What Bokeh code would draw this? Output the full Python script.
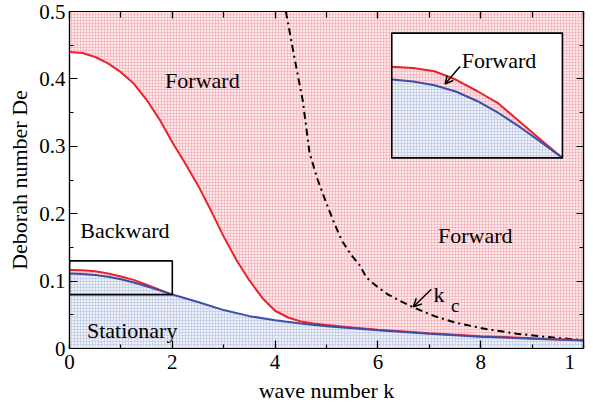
from bokeh.plotting import figure
from bokeh.models import (Range1d, LinearAxis, SingleIntervalTicker, Arrow, OpenHead)
from bokeh.core.properties import value
from bokeh.embed import file_html
from bokeh.resources import INLINE

# ---------------- data ----------------
# upper red curve (boundary of the Forward region)
k_up = [0.0, 0.25, 0.5, 0.75, 1.0, 1.25, 1.5, 1.75, 2.0, 2.25, 2.5, 2.75, 3.0,
        3.25, 3.5, 3.75, 4.0, 4.25, 4.5, 4.75, 5.0, 5.5, 6.0, 7.0, 8.0, 9.0, 10.0]
de_up = [0.440, 0.4385, 0.4325, 0.423, 0.410, 0.393, 0.369, 0.340, 0.306, 0.275,
         0.242, 0.205, 0.166, 0.131, 0.101, 0.075, 0.056, 0.046, 0.040, 0.037,
         0.035, 0.031, 0.028, 0.0228, 0.0183, 0.0152, 0.0123]

# blue curve (boundary of the Stationary region)
k_blue = [0.0, 0.25, 0.5, 0.75, 1.0, 1.25, 1.5, 1.75, 2.0, 2.5, 3.0, 3.5, 4.0,
          4.5, 5.0, 5.5, 6.0, 7.0, 8.0, 9.0, 10.0]
de_blue = [0.1114, 0.1106, 0.1091, 0.1066, 0.1028, 0.0980, 0.0924, 0.0863, 0.0800,
           0.0690, 0.0570, 0.0480, 0.0420, 0.0370, 0.0330, 0.0300, 0.0270, 0.0220,
           0.0175, 0.0145, 0.0120]

# lower red curve (small Forward strip, k <= 2)
k_low = [0.0, 0.25, 0.5, 0.75, 1.0, 1.25, 1.5, 1.75, 2.0]
de_low = [0.1165, 0.1160, 0.1147, 0.1114, 0.1068, 0.1018, 0.0945, 0.0872, 0.0800]

# critical wave number k_c (dash-dot)
k_c = [4.21, 4.38, 4.54, 4.67, 4.83, 4.99, 5.15, 5.3, 5.47, 5.64, 5.78, 6.0, 6.2,
       6.45, 6.69, 7.1, 7.53, 8.1, 8.7, 9.3, 9.94]
de_c = [0.500, 0.430, 0.367, 0.290, 0.250, 0.217, 0.186, 0.160, 0.140, 0.124,
        0.105, 0.091, 0.080, 0.070, 0.061, 0.048, 0.038, 0.029, 0.022, 0.017, 0.0127]

x_ticks_labels = {10: "1\u2007"}
y_ticks_labels = {0: "0"}

# zoomed window shown in the inset
zoom_k = [0.0, 2.0]
zoom_de = [0.08, 0.13]

# ---------------- styling ----------------
RED = "#e8232b"
BLUE = "#3b4fa6"
FONT = "Liberation Serif"
AXFONT = "'Liberation Serif', serif"
PINK_FILL = "#fce8ea"
PINK_HATCH = "#f5b0b7"
BLUE_FILL = "#eff1f8"
BLUE_HATCH = "#bfc7e2"

p = figure(width=585, height=405, output_backend="svg", toolbar_location=None,
           x_range=Range1d(0, 10), y_range=Range1d(0, 0.5),
           min_border_left=69, min_border_right=2, min_border_top=11,
           min_border_bottom=40)
p.xgrid.visible = False
p.ygrid.visible = False
p.outline_line_color = "black"
p.outline_line_width = 1.2
p.background_fill_color = "white"

# inset coordinate system placed in the upper right of the frame
fx0, fx1 = 0.627, 0.959
fy0, fy1 = 0.5656, 0.9359
sx = (zoom_k[1] - zoom_k[0]) / (fx1 - fx0)
sy = (zoom_de[1] - zoom_de[0]) / (fy1 - fy0)
p.extra_x_ranges = {"ins": Range1d(zoom_k[0] - fx0 * sx, zoom_k[0] + (1 - fx0) * sx)}
p.extra_y_ranges = {"ins": Range1d(zoom_de[0] - fy0 * sy, zoom_de[0] + (1 - fy0) * sy)}

hatch_pink = dict(fill_color=PINK_FILL, hatch_pattern="+", hatch_color=PINK_HATCH,
                  hatch_scale=3, hatch_weight=0.7)
hatch_blue = dict(fill_color=BLUE_FILL, hatch_pattern="+", hatch_color=BLUE_HATCH,
                  hatch_scale=3, hatch_weight=0.7)

ymax = p.y_range.end
# main plot regions
p.varea(x=k_up, y1=de_up, y2=[ymax] * len(k_up), **hatch_pink)
p.varea(x=k_blue, y1=[0] * len(k_blue), y2=de_blue, **hatch_blue)
p.varea(x=k_low, y1=de_blue[:len(k_low)], y2=de_low, **hatch_pink)

p.line(k_c, de_c, line_color="black", line_width=2, line_dash="7 4 2 4")
p.line(k_up, de_up, line_color=RED, line_width=2)
p.line(k_low, de_low, line_color=RED, line_width=2)
p.line(k_blue, de_blue, line_color=BLUE, line_width=2)

# zoom box in main plot
p.quad(left=zoom_k[0], right=zoom_k[1], bottom=zoom_de[0], top=zoom_de[1],
       fill_color=None, line_color="black", line_width=1.6)

# ----- inset -----
ins = dict(x_range_name="ins", y_range_name="ins")
p.quad(left=zoom_k[0], right=zoom_k[1], bottom=zoom_de[0], top=zoom_de[1],
       fill_color="white", line_color=None, **ins)
p.varea(x=k_low, y1=[zoom_de[0]] * len(k_low), y2=de_blue[:len(k_low)], **hatch_blue, **ins)
p.varea(x=k_low, y1=de_blue[:len(k_low)], y2=de_low, **hatch_pink, **ins)
p.line(k_low, de_low, line_color=RED, line_width=2, **ins)
p.line(k_low, de_blue[:len(k_low)], line_color=BLUE, line_width=2, **ins)
p.quad(left=zoom_k[0], right=zoom_k[1], bottom=zoom_de[0], top=zoom_de[1],
       fill_color=None, line_color="black", line_width=1.6, **ins)
p.text(x=[0.82], y=[0.1192], text=["Forward"], text_font=value(FONT),
       text_font_size="22px", text_color="black", text_baseline="alphabetic", **ins)
p.add_layout(Arrow(end=OpenHead(size=8, line_width=1.5), x_start=0.80, y_start=0.1166,
                   x_end=0.624, y_end=0.1096, line_width=1.5, **ins))

# ----- region labels -----
def lab(x, y, t, size="22px"):
    p.text(x=[x], y=[y], text=[t], text_font=value(FONT), text_font_size=size,
           text_color="black", text_baseline="alphabetic", text_align="left")

lab(1.86, 0.397, "Forward")
lab(0.21, 0.1745, "Backward")
lab(0.34, 0.027, "Stationary")
lab(7.17, 0.168, "Forward")
lab(7.08, 0.0806, "k")
lab(7.42, 0.0637, "c", size="19px")
p.add_layout(Arrow(end=OpenHead(size=8, line_width=1.5), x_start=7.04, y_start=0.088,
                   x_end=6.69, y_end=0.062, line_width=1.5))

# ----- axes -----
xt = SingleIntervalTicker(interval=2, num_minor_ticks=2)
yt = SingleIntervalTicker(interval=0.1, num_minor_ticks=2)
ax = p.xaxis[0]
ay = p.yaxis[0]
ax.ticker = xt
ay.ticker = yt
ax.axis_label = "wave number k"
ay.axis_label = "Deborah number De"
ax.major_label_overrides = x_ticks_labels
ay.major_label_overrides = y_ticks_labels
for a in (ax, ay):
    a.axis_label_text_font = AXFONT
    a.axis_label_text_font_style = "normal"
    a.axis_label_text_font_size = "22px"
    a.axis_label_text_color = "black"
    a.major_label_text_font = AXFONT
    a.major_label_text_font_size = "21px"
    a.major_label_text_color = "black"
    a.major_tick_in = 8
    a.major_tick_out = 0
    a.minor_tick_in = 4
    a.minor_tick_out = 0
    a.axis_line_width = 1.2
    a.major_tick_line_width = 1.2
    a.minor_tick_line_width = 1.2
ax.major_label_standoff = 1
ax.axis_label_standoff = 1
ay.major_label_standoff = 4
ay.axis_label_standoff = 4

for loc, tk in (("above", SingleIntervalTicker(interval=2, num_minor_ticks=2)),
                ("right", SingleIntervalTicker(interval=0.1, num_minor_ticks=2))):
    a2 = LinearAxis(ticker=tk, major_label_text_font_size="1px",
                    major_label_text_color=None,
                    major_label_standoff=0, major_tick_in=7, major_tick_out=0,
                    minor_tick_in=6 if loc == "above" else 4, minor_tick_out=0,
                    axis_line_width=1.2, major_tick_line_width=1.2,
                    minor_tick_line_width=1.2)
    p.add_layout(a2, loc)

open("out.html", "w").write(file_html(p, INLINE))
